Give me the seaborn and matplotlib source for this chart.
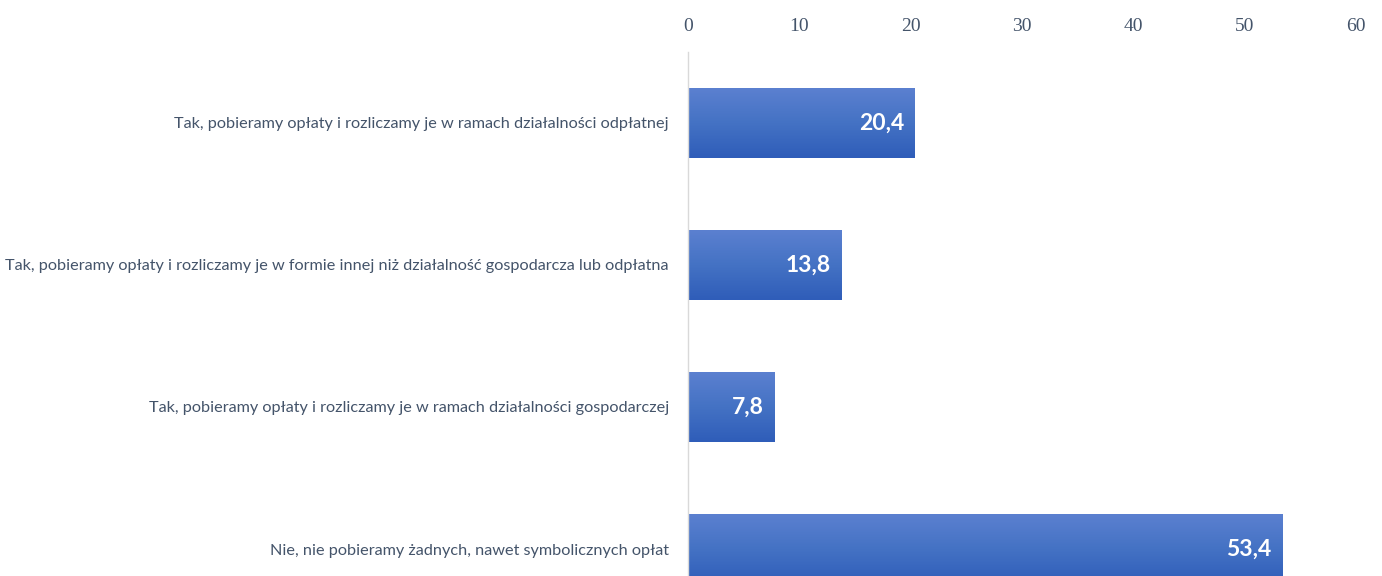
import numpy as np
import pandas as pd
import seaborn as sns
import matplotlib
matplotlib.use("Agg")
import matplotlib.pyplot as plt
from matplotlib.colors import LinearSegmentedColormap

# Data
categories = [
    "Tak, pobieramy opłaty i rozliczamy je w ramach działalności odpłatnej",
    "Tak, pobieramy opłaty i rozliczamy je w formie innej niż działalność gospodarcza lub odpłatna",
    "Tak, pobieramy opłaty i rozliczamy je w ramach działalności gospodarczej",
    "Nie, nie pobieramy żadnych, nawet symbolicznych opłat",
]
values = [20.4, 13.8, 7.8, 53.4]
value_labels = ["20,4", "13,8", "7,8", "53,4"]
x_ticks = [0, 10, 20, 30, 40, 50, 60]

df = pd.DataFrame({"kategoria": categories, "procent": values})

sns.set_style("white")

fig = plt.figure(figsize=(13.82, 5.76), dpi=100)
ax = fig.add_axes([0.498, 0.0, 0.483, 0.91])

sns.barplot(data=df, x="procent", y="kategoria", orient="h", color="#4472C4",
            width=0.49, ax=ax)

# gradient fill on each bar (lighter on top, darker at bottom)
grad = LinearSegmentedColormap.from_list("bar", ["#5B80D0", "#4472C4", "#2F5DB9"])
for bar in ax.patches:
    x0, y0 = bar.get_x(), bar.get_y()
    w, h = bar.get_width(), bar.get_height()
    img = ax.imshow(np.linspace(0, 1, 100).reshape(-1, 1), cmap=grad, aspect="auto",
                    extent=[x0, x0 + w, y0 + h, y0], origin="upper", zorder=2)
    img.set_clip_path(bar)
    bar.set_edgecolor("none")

# value labels
for i, (v, lab) in enumerate(zip(values, value_labels)):
    ax.text(v - 1.0, i, lab, ha="right", va="center", color="white",
            fontsize=16.5, fontweight="bold", family="Lato", zorder=3)

ax.set_xlim(0, 60)
ax.set_ylim(3.19, -0.5)
ax.xaxis.tick_top()
ax.set_xticks(x_ticks)
ax.set_xticklabels([str(t) for t in x_ticks], family="Liberation Serif",
                   fontsize=14, color="#44546A")
ax.tick_params(axis="x", length=0, pad=12)
ax.tick_params(axis="y", length=0, pad=14)
for lab in ax.get_yticklabels():
    lab.set_family("Lato")
    lab.set_fontsize(11.7)
    lab.set_color("#44546A")
ax.set_xlabel("")
ax.set_ylabel("")
for side in ["top", "right", "bottom"]:
    ax.spines[side].set_visible(False)
ax.spines["left"].set_color("#D9D9D9")
ax.spines["left"].set_linewidth(1)

fig.savefig("out.png", dpi=100)
